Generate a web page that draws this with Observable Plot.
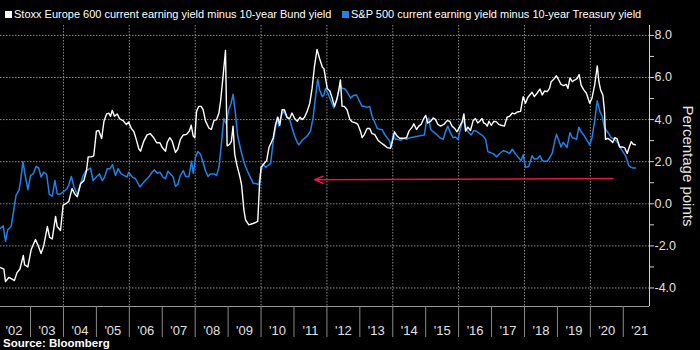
<!DOCTYPE html>
<html><head><meta charset="utf-8">
<script src="https://cdn.jsdelivr.net/npm/d3@7"></script>
<script src="https://cdn.jsdelivr.net/npm/@observablehq/plot@0.6"></script>
<style>
html,body{margin:0;padding:0;background:#000;width:700px;height:350px;overflow:hidden;}
#legend{height:22px;position:relative;font-family:"Liberation Sans",Arial,sans-serif;font-size:11px;color:#fff;}
.item{position:absolute;top:8px;display:flex;align-items:center;white-space:nowrap;line-height:13px;}
.sw{width:7px;height:7px;margin-right:2px;}
#chart{height:315px;}
#source{font-family:"Liberation Sans",Arial,sans-serif;font-weight:bold;font-size:11.5px;color:#fff;padding-left:3px;height:13px;line-height:13px;}
</style></head>
<body>
<div id="legend"></div>
<div id="chart"></div>
<div id="source">Source: Bloomberg</div>
<script>
// ---- Data ----
const seriesNames = ["Stoxx Europe 600 current earning yield minus 10-year Bund yield",
                     "S&P 500 current earning yield minus 10-year Treasury yield"];
const seriesColors = ["#ffffff", "#1f82e6"];

const stoxxYear = [2002.09,2002.19,2002.24,2002.34,2002.44,2002.51,2002.59,2002.68,2002.78,2002.82,2002.92,
2003.02,2003.15,2003.22,2003.32,2003.40,2003.51,2003.58,2003.66,2003.76,2003.81,2003.91,2003.99,
2004.06,2004.16,2004.26,2004.34,2004.42,2004.52,2004.62,2004.70,2004.75,2004.84,2004.92,
2005.00,2005.07,2005.16,2005.23,2005.31,2005.38,2005.43,2005.48,2005.55,2005.63,2005.71,2005.81,2005.91,2005.98,
2006.06,2006.14,2006.21,2006.29,2006.34,2006.44,2006.54,2006.64,2006.74,2006.83,2006.93,
2007.00,2007.10,2007.15,2007.23,2007.30,2007.40,2007.47,2007.55,2007.64,2007.74,2007.82,2007.88,2007.94,2007.99,
2008.04,2008.11,2008.18,2008.24,2008.31,2008.41,2008.49,2008.57,2008.65,2008.72,2008.77,2008.84,2008.92,2008.97,
2009.05,2009.10,2009.15,2009.20,2009.27,2009.36,2009.41,2009.48,2009.53,2009.63,2009.73,2009.83,2009.90,2009.95,
2010.00,2010.08,2010.17,2010.24,2010.31,2010.37,2010.44,2010.51,2010.57,2010.64,2010.71,2010.79,2010.87,2010.94,
2011.02,2011.10,2011.18,2011.25,2011.32,2011.40,2011.48,2011.55,2011.62,2011.70,2011.78,2011.86,2011.91,2011.96,
2012.01,2012.09,2012.16,2012.23,2012.31,2012.36,2012.41,2012.46,2012.53,2012.61,2012.70,2012.77,2012.87,2012.94,
2013.02,2013.07,2013.14,2013.22,2013.30,2013.37,2013.45,2013.55,2013.63,2013.73,2013.83,2013.93,2013.98,
2014.05,2014.13,2014.21,2014.32,2014.42,2014.49,2014.59,2014.64,2014.72,2014.79,2014.86,2014.94,
2015.00,2015.06,2015.15,2015.23,2015.30,2015.37,2015.45,2015.55,2015.65,2015.73,2015.80,2015.88,2015.95,
2016.04,2016.11,2016.16,2016.21,2016.28,2016.36,2016.44,2016.51,2016.58,2016.64,2016.71,2016.76,2016.82,
2016.87,2016.92,2016.99,2017.07,2017.15,2017.22,2017.29,2017.39,2017.47,2017.55,2017.63,2017.70,2017.78,2017.88,2017.96,
2018.03,2018.10,2018.16,2018.23,2018.30,2018.38,2018.47,2018.54,2018.61,2018.69,2018.76,2018.81,2018.89,2018.97,
2019.04,2019.11,2019.19,2019.27,2019.32,2019.38,2019.45,2019.52,2019.60,2019.66,2019.72,2019.80,2019.88,2019.98,
2020.05,2020.13,2020.21,2020.26,2020.31,2020.38,2020.43,2020.46,2020.53,2020.61,2020.68,2020.74,2020.81,2020.89,2020.96,
2021.04,2021.12,2021.17,2021.24,2021.30,2021.37];
const stoxxValue = [-3.03,-3.10,-3.70,-3.50,-3.58,-3.65,-3.27,-3.10,-2.45,-2.90,-3.00,
-2.17,-1.70,-1.94,-2.36,-2.00,-1.08,-1.60,-1.67,-0.60,-1.08,-1.27,-0.06,
0.00,0.10,0.72,0.48,0.33,0.95,1.10,1.58,2.23,2.23,2.28,
3.45,3.48,3.10,3.92,4.27,4.30,4.15,4.44,4.16,4.27,4.03,3.95,3.77,3.88,
3.58,3.42,3.06,2.60,2.50,2.98,3.27,3.33,3.14,2.90,2.90,
2.67,2.50,2.91,3.14,2.98,2.44,2.59,3.06,3.27,3.30,3.45,3.73,3.22,3.14,
4.39,4.63,4.63,4.47,3.95,3.61,3.53,3.95,4.00,4.31,4.86,5.95,7.28,2.75,
2.83,2.98,3.69,2.36,1.81,1.27,0.88,-0.30,-0.77,-1.00,-0.95,-0.89,-0.84,0.80,
1.73,1.89,2.05,2.67,2.91,3.14,3.77,4.11,3.73,4.47,4.47,4.11,4.05,4.31,
4.05,3.92,4.11,4.00,4.11,4.39,4.78,5.48,6.50,7.33,6.89,6.50,6.42,5.95,
5.48,5.36,5.02,4.63,5.02,5.41,5.88,4.63,4.63,4.47,4.00,3.89,3.84,3.77,
3.45,3.14,3.30,3.58,3.58,3.33,3.30,3.02,2.91,2.80,2.67,2.64,2.91,
3.42,3.22,3.11,3.11,3.14,3.45,3.64,3.80,3.53,3.69,3.77,4.05,
4.20,3.84,3.92,4.08,4.00,3.77,3.69,3.77,3.95,3.92,3.69,3.58,3.42,
3.69,3.92,4.27,3.45,3.64,3.48,3.95,4.05,3.84,3.92,4.05,3.84,3.80,
3.69,3.92,3.73,3.92,3.89,3.77,3.73,3.69,4.11,4.16,4.31,4.27,4.36,4.39,5.09,
4.78,5.05,5.17,5.30,5.09,5.25,5.45,5.17,5.36,5.33,5.48,5.80,5.92,6.08,
5.88,5.67,5.61,5.67,5.48,5.98,5.80,5.88,5.95,6.14,5.64,5.41,5.25,4.78,
5.02,5.64,6.55,5.80,5.41,5.17,4.39,3.06,3.11,3.02,2.91,3.14,3.09,2.70,2.70,
2.67,2.39,2.64,2.95,2.83,2.80];

const spxYear = [2002.09,2002.17,2002.24,2002.31,2002.41,2002.49,2002.56,2002.65,2002.70,2002.77,2002.83,2002.92,
2003.00,2003.08,2003.17,2003.25,2003.32,2003.40,2003.49,2003.57,2003.66,2003.74,2003.81,2003.89,2003.99,
2004.11,2004.16,2004.24,2004.32,2004.42,2004.52,2004.60,2004.68,2004.82,2004.90,
2005.00,2005.09,2005.18,2005.25,2005.33,2005.41,2005.49,2005.58,2005.66,2005.75,2005.85,2005.93,2005.98,
2006.09,2006.19,2006.32,2006.44,2006.59,2006.69,2006.76,2006.85,2006.93,
2007.02,2007.10,2007.17,2007.25,2007.33,2007.40,2007.47,2007.55,2007.64,2007.71,2007.81,2007.89,2007.94,
2008.01,2008.08,2008.16,2008.24,2008.31,2008.39,2008.46,2008.57,2008.65,2008.72,2008.79,2008.87,2008.94,
2009.02,2009.09,2009.15,2009.22,2009.29,2009.38,2009.48,2009.58,2009.66,2009.76,2009.86,2009.93,2009.98,
2010.06,2010.14,2010.21,2010.29,2010.37,2010.44,2010.49,2010.54,2010.61,2010.69,2010.79,2010.87,2010.94,
2011.02,2011.10,2011.15,2011.25,2011.40,2011.50,2011.58,2011.65,2011.72,2011.78,2011.86,2011.91,2011.96,
2012.03,2012.11,2012.21,2012.29,2012.36,2012.41,2012.46,2012.53,2012.61,2012.72,2012.80,2012.90,2012.97,
2013.07,2013.14,2013.22,2013.30,2013.37,2013.44,2013.53,2013.61,2013.68,2013.75,2013.83,2013.90,2013.95,
2014.01,2014.08,2014.15,2014.23,2014.34,2014.42,2014.52,2014.64,2014.79,2014.96,
2015.02,2015.09,2015.15,2015.23,2015.33,2015.43,2015.53,2015.60,2015.67,2015.75,2015.83,2015.90,2015.98,
2016.04,2016.11,2016.16,2016.24,2016.31,2016.38,2016.46,2016.54,2016.64,2016.74,2016.82,
2016.89,2016.99,2017.07,2017.15,2017.25,2017.35,2017.45,2017.55,2017.63,2017.73,2017.83,2017.90,2017.96,
2018.03,2018.13,2018.23,2018.30,2018.38,2018.47,2018.54,2018.61,2018.69,2018.77,2018.84,2018.91,2018.97,
2019.04,2019.11,2019.17,2019.24,2019.29,2019.38,2019.45,2019.52,2019.58,2019.65,2019.72,2019.80,2019.88,2019.98,
2020.05,2020.13,2020.21,2020.29,2020.36,2020.43,2020.49,2020.56,2020.63,2020.69,2020.76,2020.83,2020.91,
2021.00,2021.07,2021.12,2021.17,2021.24,2021.30,2021.37];
const spxValue = [-1.16,-1.05,-1.78,-1.23,-1.08,-0.30,0.40,0.64,1.10,2.00,1.42,0.67,
1.34,1.42,1.77,1.70,1.27,1.50,1.39,0.45,0.36,1.11,0.48,0.45,0.56,
0.72,0.88,1.30,0.80,0.45,0.95,1.34,1.55,1.70,1.10,
1.27,1.42,1.10,1.27,1.66,1.66,1.86,1.34,1.67,1.42,1.34,1.27,1.50,
1.27,1.19,0.80,1.03,1.27,1.50,1.61,1.45,1.50,
1.27,1.19,1.55,1.42,1.27,0.83,0.92,1.34,1.58,1.30,1.30,2.02,1.45,
2.20,2.48,2.36,1.97,1.58,1.30,1.42,1.42,1.34,1.73,2.75,4.05,3.80,
4.47,4.78,5.20,4.31,3.22,2.59,1.97,1.58,1.30,0.98,0.95,0.92,1.42,
1.89,1.73,1.81,1.92,2.98,3.61,4.11,3.69,4.16,4.42,4.08,4.00,3.61,
3.22,2.91,2.80,3.02,3.22,3.45,4.08,5.02,5.92,5.41,5.09,5.17,5.48,
5.25,4.94,4.55,4.86,5.33,5.64,5.48,5.48,5.33,5.02,5.14,5.17,4.94,
4.63,4.63,4.58,4.63,4.16,3.92,3.58,3.53,3.53,3.30,3.14,2.98,2.70,
3.27,3.06,3.06,3.02,3.11,3.06,3.14,3.17,3.22,3.27,
3.92,4.08,3.53,3.42,3.30,3.14,3.06,3.42,3.69,3.38,3.14,3.17,3.06,
3.45,3.88,3.92,3.53,3.38,3.27,3.48,3.45,3.33,3.22,3.06,
2.47,2.42,2.36,2.23,2.39,2.52,2.48,2.39,2.59,2.36,2.17,2.05,2.33,
1.73,1.77,2.28,2.13,2.13,2.28,2.05,2.02,2.02,2.20,2.39,2.91,3.30,
3.02,2.70,2.91,2.80,2.67,3.38,3.14,3.11,3.06,3.64,3.42,3.27,3.06,2.80,
3.14,3.92,4.89,4.39,4.16,3.58,3.48,3.33,3.14,3.11,3.02,2.91,2.67,
2.44,2.28,2.05,1.81,1.73,1.70,1.70];

// axis / annotation settings
const xDomain = [2002.088, 2021.796];
const yDomain = [-4.88, 8.47];
const yTicks = [-4, -3, -2, -1, 0, 1, 2, 3, 4, 5, 6, 7, 8];
const yGrid = [-4, -2, 0, 2, 4, 6, 8];
const xGrid = [2004, 2006, 2008, 2010, 2012, 2014, 2016, 2018, 2020];
const yearTicks = d3.range(2003, 2022);
const yearLabels = ["'02","'03","'04","'05","'06","'07","'08","'09","'10","'11","'12","'13","'14","'15","'16","'17","'18","'19","'20","'21"];
const yearLabelPos = d3.range(2002, 2022).map(y => y + 0.5);
const arrowFrom = {year: 2020.69, value: 1.20};
const arrowTo = {year: 2011.63, value: 1.14};

// ---- Legend ----
const legend = document.getElementById("legend");
const legendLeft = [5, 342];
seriesNames.forEach((n, i) => {
  const it = document.createElement("div");
  it.className = "item";
  it.style.left = legendLeft[i] + "px";
  it.innerHTML = `<span class="sw" style="background:${seriesColors[i]}"></span><span></span>`;
  it.lastChild.textContent = n;
  legend.appendChild(it);
});

const stoxx = stoxxYear.map((y, i) => ({year: y, value: stoxxValue[i]}));
const spx = spxYear.map((y, i) => ({year: y, value: spxValue[i]}));

const grid = {stroke: "#8c8c8c", strokeOpacity: 1, strokeDasharray: "1.5,1.5"};

const chart = Plot.plot({
  width: 700, height: 315,
  marginTop: 3, marginRight: 51, marginBottom: 31, marginLeft: 0,
  style: {background: "#000", color: "#fff", fontFamily: "Liberation Sans, Arial, sans-serif", overflow: "visible"},
  x: {domain: xDomain, label: null},
  y: {domain: yDomain, label: null},
  marks: [
    Plot.gridY(yGrid, grid),
    Plot.gridX(xGrid, grid),
    Plot.ruleY([yDomain[0]], {stroke: "#9a9a9a"}),
    Plot.ruleX([xDomain[1]], {stroke: "#d0d0d0"}),
    Plot.axisX(yearTicks, {anchor: "bottom", tickSize: 31, tickFormat: () => "", stroke: "#8a8a8a", label: null}),
    Plot.axisX(yearLabelPos, {anchor: "bottom", tickSize: 0, tickPadding: 19, fontSize: 13, fill: "#e0e0e0",
      tickFormat: d => yearLabels[Math.floor(d) - 2002], label: null}),
    Plot.axisY(yTicks, {anchor: "right", tickSize: 4, tickPadding: 1, fontSize: 12.5, stroke: "#d0d0d0", fill: "#e0e0e0",
      tickFormat: d => d % 2 === 0 ? d.toFixed(1) : "", label: null}),
    Plot.text(["Percentage points"], {frameAnchor: "right", rotate: 90, dx: 38, textAnchor: "middle", lineAnchor: "middle", fontSize: 15, fill: "#e6e6e6"}),
    Plot.arrow([{}], {x1: () => arrowFrom.year, y1: () => arrowFrom.value, x2: () => arrowTo.year, y2: () => arrowTo.value,
      stroke: "#e3173e", strokeWidth: 1.5, headLength: 9, headAngle: 45, bend: 0}),
    Plot.line(spx, {x: "year", y: "value", stroke: seriesColors[1], strokeWidth: 1.5}),
    Plot.line(stoxx, {x: "year", y: "value", stroke: seriesColors[0], strokeWidth: 1.4})
  ]
});
document.getElementById("chart").appendChild(chart);
</script>
</body></html>
